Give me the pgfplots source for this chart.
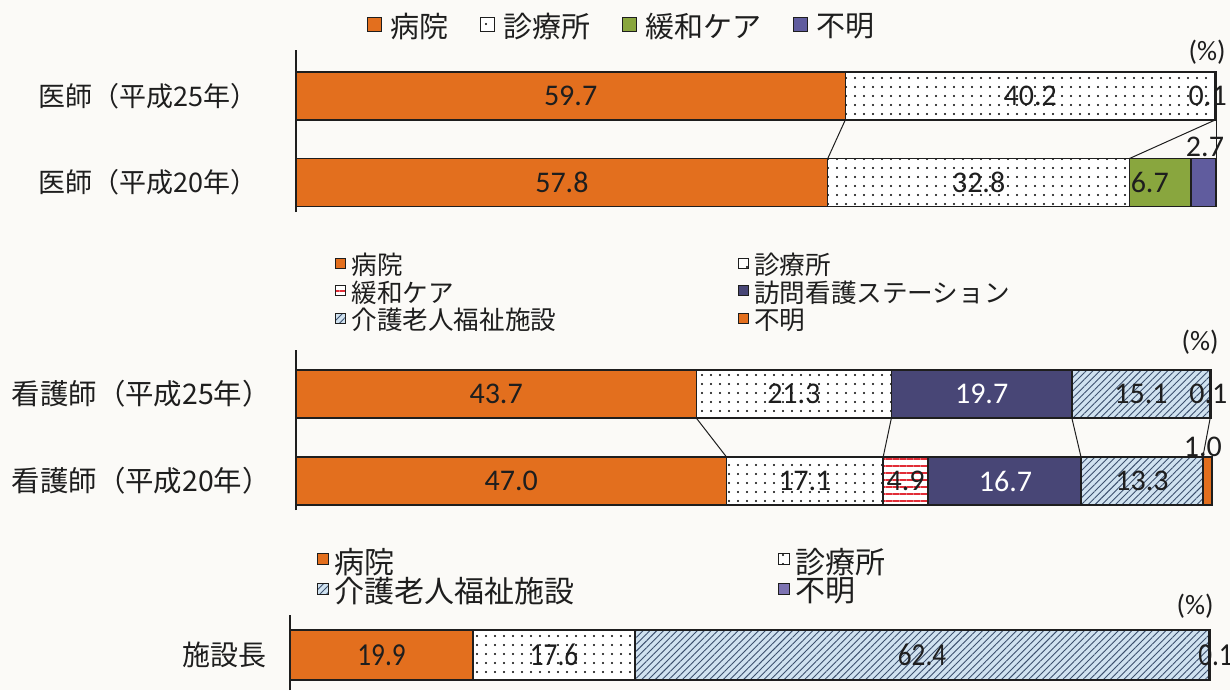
\documentclass[border=0pt]{standalone}
\usepackage{fontspec}
\setmainfont{Noto Sans CJK JP}
\newfontfamily\numfont{Carlito}
\newfontfamily\numfontc{Carlito}[FakeStretch=0.85]
\usepackage{pgfplots}
\pgfplotsset{compat=1.18}
\usetikzlibrary{patterns.meta}

\definecolor{bgpaper}{RGB}{251,250,247}
\definecolor{hosp}{RGB}{227,111,30}
\definecolor{kanwa}{RGB}{137,166,62}
\definecolor{fumeiA}{RGB}{96,92,158}
\definecolor{houmon}{RGB}{72,70,118}
\definecolor{kaigo}{RGB}{208,226,240}
\definecolor{kaigoline}{RGB}{60,80,110}
\definecolor{kanwared}{RGB}{225,45,55}
\definecolor{fumeiC}{RGB}{125,115,178}
\definecolor{ink}{RGB}{30,30,30}

\pgfplotsset{
  chart/.style={
    xbar stacked, scale only axis,
    xmin=0, xmax=100,
    axis x line=none, axis y line*=left,
    y axis line style={line width=0.7pt, ink},
    ytick={1,2}, ytick style={draw=none},
    yticklabel style={inner sep=0pt, text=ink},
    every axis plot/.append style={draw=ink, line width=0.7pt},
    legend cell align=left,
    legend style={draw=none, fill=none, inner sep=0pt, text=ink, nodes={inner sep=0pt}},
    clip=false,
  },
  dotfill/.style={fill=white, postaction={pattern={Dots[distance=4.5pt,radius=0.6pt]}, pattern color=black}},
  hatchfill/.style={fill=kaigo, postaction={pattern={Lines[angle=45,distance=2.4pt,line width=0.45pt]}, pattern color=kaigoline}},
  stripefill/.style={fill=white, postaction={pattern={Lines[angle=0,distance=3.5pt,line width=1.3pt]}, pattern color=kanwared}},
  sqA/.style={legend image code/.code={\draw[##1,/tikz/.cd,line width=0.5pt] (0pt,-2.4pt) rectangle (7pt,4.6pt);}},
  sqB/.style={legend image code/.code={\draw[##1,/tikz/.cd,line width=0.5pt] (0pt,-1.2pt) rectangle (5pt,3.8pt);}},
  sqC/.style={legend image code/.code={\draw[##1,/tikz/.cd,line width=0.5pt] (0pt,-1.4pt) rectangle (5.5pt,4.1pt);}},
}
\tikzset{
  num/.style={font=\numfont\fontsize{15}{15}\selectfont, text=ink, inner sep=0pt},
  numc/.style={font=\numfontc\fontsize{16}{16}\selectfont, text=ink, inner sep=0pt},
  conn/.style={draw=ink, line width=0.5pt},
  pct/.style={font=\numfont\fontsize{14}{14}\selectfont, text=ink, inner sep=0pt},
}

\begin{document}
\begin{tikzpicture}
\useasboundingbox (0pt,0pt) rectangle (615pt,-345pt);
\fill[bgpaper] (0pt,0pt) rectangle (615pt,-345pt);

% ---- doctors
\begin{axis}[chart,
  width=460pt, height=81pt, at={(148pt,-106pt)}, anchor=south west,
  ymin=0.659, ymax=2.532, bar width=24pt,
  yticklabels={医師（平成20年）,医師（平成25年）},
  yticklabel style={font=\fontsize{13.5}{14}\selectfont, xshift=-19pt},
  every axis plot post/.append style={sqA},
  legend columns=4,
  legend style={at={(0.0772,1.143)}, anchor=west,
    font=\fontsize{14.5}{16}\selectfont,
    /tikz/every odd column/.append style={column sep=4pt},
    /tikz/every even column/.append style={column sep=16pt}},
]
\addplot[fill=hosp] coordinates {(59.7,2) (57.8,1)};
\addlegendentry{病院}
\addplot[dotfill] coordinates {(40.2,2) (32.8,1)};
\addlegendentry{診療所}
\addplot[fill=kanwa] coordinates {(0,2) (6.7,1)};
\addlegendentry{緩和ケア}
\addplot[fill=fumeiA] coordinates {(0.1,2) (2.7,1)};
\addlegendentry{不明}

\coordinate (a1) at (axis cs:29.85,2);
\coordinate (a2) at (axis cs:79.8,2);
\coordinate (a3) at (axis cs:99.1,2);
\coordinate (a4) at (axis cs:28.9,1);
\coordinate (a5) at (axis cs:74.2,1);
\coordinate (a6) at (axis cs:92.8,1);
\coordinate (a7) at ([yshift=17.75pt]axis cs:98.8,1);

\draw[conn] ([yshift=-12pt]axis cs:59.7,2) -- ([yshift=12pt]axis cs:57.8,1);
\draw[conn] ([yshift=-12pt]axis cs:99.9,2) -- ([yshift=12pt]axis cs:90.6,1);
\draw[conn] ([yshift=-12pt]axis cs:100,2) -- ([yshift=12pt]axis cs:100,1);
\end{axis}
\node[num] at (a1) {59.7};
\node[num] at (a2) {40.2};
\node[num] at (a3) {0.1};
\node[num] at (a4) {57.8};
\node[num] at (a5) {32.8};
\node[num] at (a6) {6.7};
\node[num] at (a7) {2.7};

% ---- nurses
\begin{axis}[chart,
  width=458pt, height=80pt, at={(148pt,-255pt)}, anchor=south west,
  ymin=0.667, ymax=2.506, bar width=24pt,
  yticklabels={看護師（平成20年）,看護師（平成25年）},
  yticklabel style={font=\fontsize{14.2}{15}\selectfont, xshift=-12.5pt},
  every axis plot post/.append style={sqB},
  legend columns=2,
  legend style={at={(0.0426,1.355)}, anchor=west,
    font=\fontsize{12.8}{14}\selectfont, row sep=1.5pt,
    /tikz/every odd column/.append style={column sep=2.5pt},
    /tikz/every even column/.append style={column sep=91pt}},
]
\addplot[fill=hosp] coordinates {(43.7,2) (47.0,1)};
\addlegendentry{病院}
\addplot[dotfill] coordinates {(21.3,2) (17.1,1)};
\addlegendentry{診療所}
\addplot[stripefill] coordinates {(0,2) (4.9,1)};
\addlegendentry{緩和ケア}
\addplot[fill=houmon] coordinates {(19.7,2) (16.7,1)};
\addlegendentry{訪問看護ステーション}
\addplot[hatchfill] coordinates {(15.1,2) (13.3,1)};
\addlegendentry{介護老人福祉施設}
\addplot[fill=hosp] coordinates {(0.1,2) (1.0,1)};
\addlegendentry{不明}

\coordinate (b1) at (axis cs:21.85,2);
\coordinate (b2) at (axis cs:54.35,2);
\coordinate (b3) at (axis cs:74.85,2);
\coordinate (b4) at (axis cs:92.25,2);
\coordinate (b5) at (axis cs:99.6,2);
\coordinate (b6) at (axis cs:23.5,1);
\coordinate (b7) at (axis cs:55.55,1);
\coordinate (b8) at (axis cs:66.55,1);
\coordinate (b9) at (axis cs:77.45,1);
\coordinate (b10) at (axis cs:92.35,1);
\coordinate (b11) at ([yshift=17pt]axis cs:99.0,1);

\draw[conn] ([yshift=-12pt]axis cs:43.7,2) -- ([yshift=12pt]axis cs:47.0,1);
\draw[conn] ([yshift=-12pt]axis cs:65.0,2) -- ([yshift=12pt]axis cs:64.1,1);
\draw[conn] ([yshift=-12pt]axis cs:84.7,2) -- ([yshift=12pt]axis cs:85.7,1);
\draw[conn] ([yshift=-12pt]axis cs:99.8,2) -- ([yshift=12pt]axis cs:99.0,1);
\end{axis}
\node[num] at (b1) {43.7};
\node[num] at (b2) {21.3};
\node[num, text=white] at (b3) {19.7};
\node[num] at (b4) {15.1};
\node[num] at (b5) {0.1};
\node[num] at (b6) {47.0};
\node[num] at (b7) {17.1};
\node[num] at (b8) {4.9};
\node[num, text=white] at (b9) {16.7};
\node[num] at (b10) {13.3};
\node[num] at (b11) {1.0};

% ---- facility heads
\begin{axis}[chart,
  width=460pt, height=37.5pt, at={(145pt,-345pt)}, anchor=south west,
  ymin=0.5625, ymax=1.5, bar width=25pt,
  ytick={1}, yticklabels={施設長},
  yticklabel style={font=\fontsize{14}{15}\selectfont, xshift=-11.5pt},
  every axis plot post/.append style={sqC},
  legend columns=2,
  legend style={at={(0.0293,1.51)}, anchor=west,
    font=\fontsize{15}{16}\selectfont, row sep=0.5pt,
    /tikz/every odd column/.append style={column sep=2.5pt},
    /tikz/every even column/.append style={column sep=102pt}},
]
\addplot[fill=hosp] coordinates {(19.9,1)};
\addlegendentry{病院}
\addplot[dotfill] coordinates {(17.6,1)};
\addlegendentry{診療所}
\addplot[hatchfill] coordinates {(62.4,1)};
\addlegendentry{介護老人福祉施設}
\addplot[fill=fumeiC] coordinates {(0.1,1)};
\addlegendentry{不明}

\coordinate (c1) at (axis cs:9.95,1);
\coordinate (c2) at (axis cs:28.7,1);
\coordinate (c3) at (axis cs:68.7,1);
\coordinate (c4) at (axis cs:100.6,1);
\end{axis}
\node[numc] at (c1) {19.9};
\node[numc] at (c2) {17.6};
\node[numc] at (c3) {62.4};
\node[numc] at (c4) {0.1};

\node[pct] at (603.5pt,-26pt) {(\%)};
\node[pct] at (600pt,-171pt) {(\%)};
\node[pct] at (597.5pt,-303pt) {(\%)};
\end{tikzpicture}
\end{document}
